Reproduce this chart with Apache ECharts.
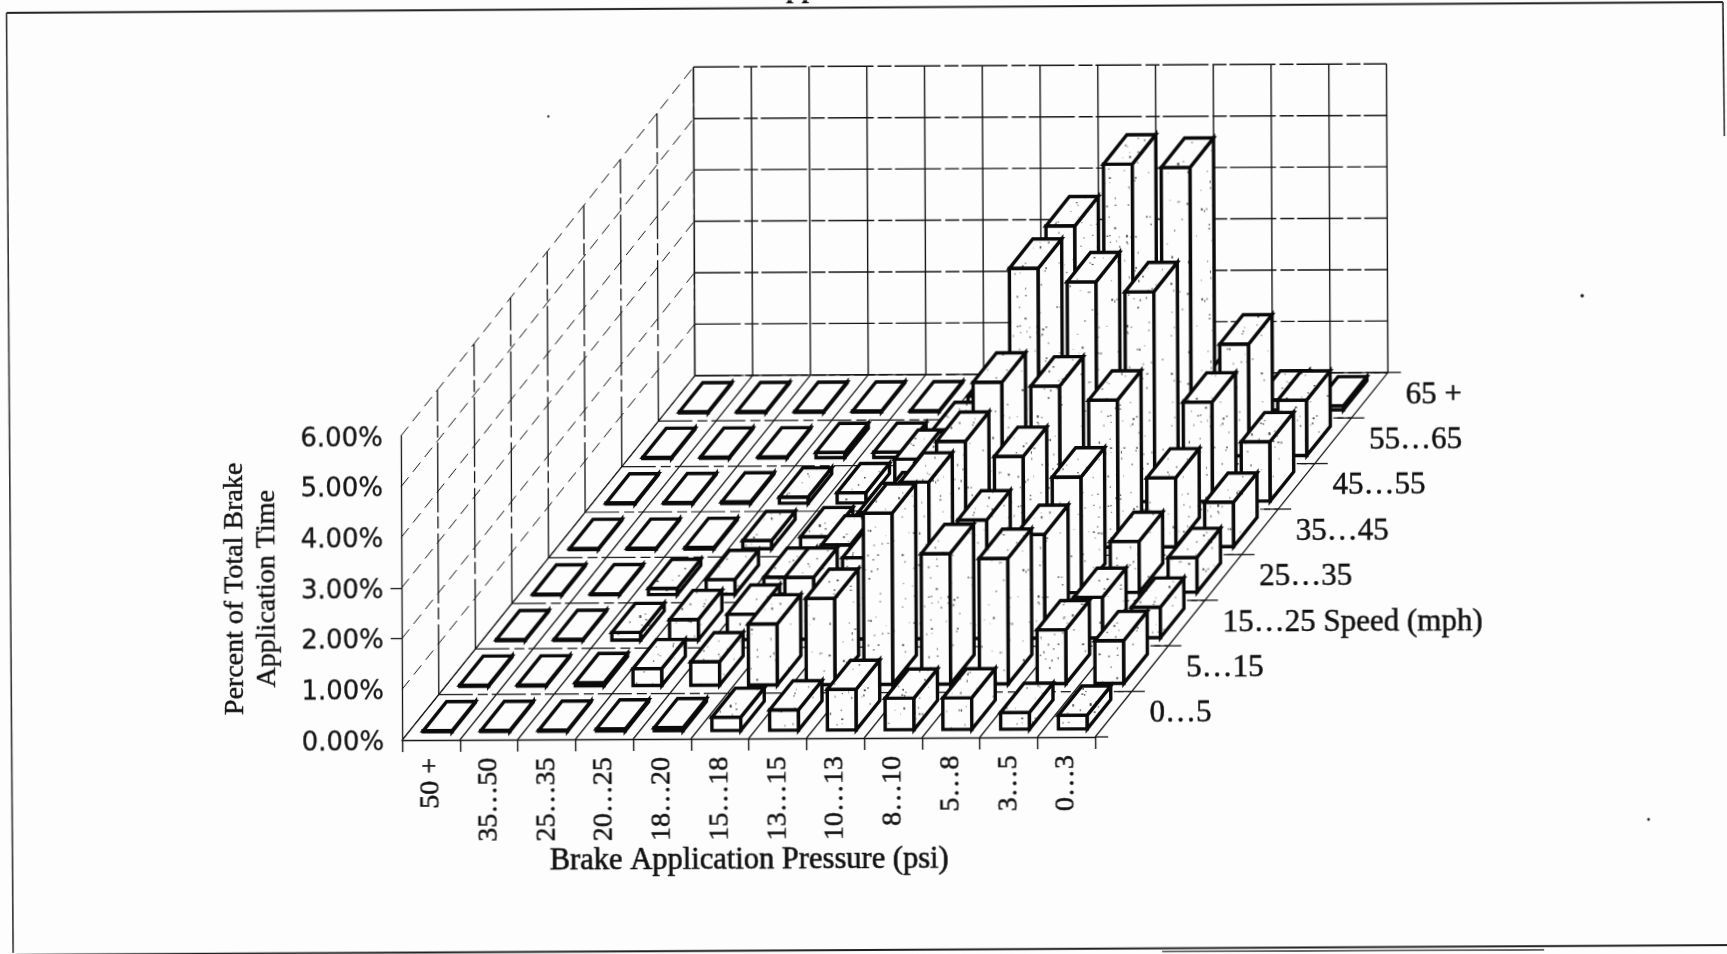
<!DOCTYPE html>
<html><head><meta charset="utf-8">
<style>html,body{margin:0;padding:0;background:#fdfdfd;overflow:hidden}
#c{width:1727px;height:954px;transform:rotate(-0.26deg);transform-origin:50% 50%}</style>
<script src="https://cdn.jsdelivr.net/npm/echarts@6/dist/echarts.min.js"></script>
</head><body><div id="c"></div>
<script>
const pressureLabels=['50 +','35…50','25…35','20…25','18…20','15…18','13…15','10…13','8…10','5…8','3…5','0…3'];
const speedLabels=['0…5','5…15','15…25 Speed (mph)','25…35','35…45','45…55','55…65','65 +'];
const percentLabels=['0.00%','1.00%','2.00%','3.00%','4.00%','5.00%','6.00%'];
const speed0to5   =[0.02,0.02,0.02,0.04,0.06,0.26,0.40,0.80,0.62,0.62,0.33,0.27];
const speed5to15  =[0.02,0.02,0.06,0.33,0.46,1.20,1.70,3.37,2.57,2.47,1.06,0.84];
const speed15to25 =[0.02,0.02,0.15,0.40,0.50,1.22,1.60,3.08,2.33,2.04,0.80,0.60];
const speed25to35 =[0.02,0.02,0.12,0.29,0.33,0.96,1.80,2.98,2.68,2.27,1.00,0.68];
const speed35to45 =[0.02,0.02,0.03,0.16,0.23,0.70,1.70,3.24,3.16,2.88,1.35,0.87];
const speed45to55 =[0.02,0.02,0.03,0.12,0.20,0.85,1.10,4.57,4.30,4.10,1.94,1.16];
const speed55to65 =[0.02,0.02,0.02,0.10,0.10,0.50,1.20,4.50,5.70,5.63,2.18,1.08];
const speed65plus =[0.02,0.02,0.02,0.02,0.02,0.30,0.80,1.00,1.50,0.50,0.20,0.08];
const rows=[speed0to5,speed5to15,speed15to25,speed25to35,speed35to45,speed45to55,speed55to65,speed65plus];

// oblique projection: one speed step moves this far on screen, and heights grow slightly with depth
const depthX=36.8, depthY=-45.4, depthGrow=0.00185;
const INK='#0a0a0a';
function P(api,i,j,v){
  const c=api.coord([0,v]),b=api.coord([0,0]);const w=api.size([1,0])[0];
  return [c[0]-w/2+i*w+j*depthX, b[1]+(c[1]-b[1])*(1+j*depthGrow)+j*depthY];
}

function speckle(n,dark){
  const t=document.createElement('canvas');t.width=t.height=90;const g=t.getContext('2d');
  g.fillStyle='#fdfdfd';g.fillRect(0,0,90,90);
  let s=n;const r=()=>{s=(s*16807)%2147483647;return s/2147483647;};
  for(let k=0;k<dark;k++){g.fillStyle='rgba(40,40,40,'+(0.25+r()*0.6)+')';g.fillRect(r()*90,r()*90,1+r()*1.2,1+r()*1.5);}
  return t;
}
const tileFront=speckle(12345,55), tileSide=speckle(777,45), tileTop=speckle(4242,70);
function face(img){return {image:img,repeat:'repeat'};}

const bars=[];
for(let j=rows.length-1;j>=0;j--) for(let i=0;i<rows[j].length;i++) bars.push([i,rows[j][i],j]);

function line(a,b,w,dash){return {type:'line',shape:{x1:a[0],y1:a[1],x2:b[0],y2:b[1]},style:{stroke:'#151515',lineWidth:w,lineDash:dash||null,fill:null},silent:true};}

function renderFrame(p,api){
  const ch=[];const I=pressureLabels.length,J=speedLabels.length;
  for(let i=0;i<=I;i++){ch.push(line(P(api,i,J,0),P(api,i,J,6),1.4));ch.push(line(P(api,i,0,0),P(api,i,J,0),1.2));}
  for(let v=0;v<=6;v++){ch.push(line(P(api,0,J,v),P(api,I,J,v),1.4,[46,4,14,3]));
    if(v>0)ch.push(line(P(api,0,0,v),P(api,0,J,v),1,[12,7]));else ch.push(line(P(api,0,0,v),P(api,0,J,v),1,[16,5]));}
  for(let j=1;j<=J;j++){ch.push(line(P(api,0,j,0),P(api,0,j,6),1.3,[70,5,12,4]));
    ch.push(line(P(api,0,j,0),P(api,I,j,0),1.2,[34,5,10,4]));}
  for(let j=0;j<=J;j++){const e=P(api,I,j,0);ch.push(line([e[0]-(j?14:0),e[1]],[e[0]+13,e[1]],1.3));}
  return {type:'group',children:ch};
}
function poly(pts,fill,lw){return {type:'polygon',shape:{points:pts},style:{fill:fill,stroke:INK,lineWidth:lw,lineJoin:'miter'}};}
function renderBar(p,api){
  const i=api.value(0),v=api.value(1),j=api.value(2);
  const x0=i+0.25,x1=i+0.75,d0=j+0.18,d1=j+0.82,lw=3.4;
  const a=P(api,x0,d0,0),b=P(api,x1,d0,0),c=P(api,x1,d0,v),d=P(api,x0,d0,v);
  const e=P(api,x1,d1,0),f=P(api,x1,d1,v),g=P(api,x0,d1,v);
  const tall=v>=0.12;
  const white='#fdfdfd';
  return {type:'group',children:[
    poly([a,b,c,d],tall?face(tileFront):white,lw),
    poly([b,e,f,c],tall?face(tileSide):white,lw),
    poly([d,c,f,g],tall?face(tileTop):white,lw)
  ]};
}
function renderSpeed(p,api){
  const j=api.value(0);const a=P(api,pressureLabels.length,j+0.5,0);
  return {type:'text',style:{x:a[0]+36,y:a[1],text:speedLabels[j],fill:'#111',font:'31px "Liberation Serif"',textAlign:'left',textVerticalAlign:'middle',stroke:'#111',lineWidth:0.5},silent:true};
}
const chart=echarts.init(document.getElementById('c'),null,{renderer:'canvas'});
const serif='"Liberation Serif"';
chart.setOption({
  animation:false,backgroundColor:'#fdfdfd',
  grid:{left:401,top:434,width:693,height:304},
  xAxis:{type:'category',data:pressureLabels,boundaryGap:true,
    axisLine:{lineStyle:{color:'#151515',width:1.4}},
    axisTick:{show:true,length:12,alignWithLabel:false,lineStyle:{color:'#151515',width:1.4}},
    axisLabel:{interval:0,rotate:90,margin:18,color:'#111',fontFamily:serif,fontSize:28,textBorderColor:'#111',textBorderWidth:0.5},
    name:'Brake Application Pressure (psi)',nameLocation:'middle',nameGap:103,
    nameTextStyle:{color:'#111',fontFamily:serif,fontSize:30.5,textBorderColor:'#111',textBorderWidth:0.6}},
  yAxis:{type:'value',min:0,max:6,interval:1,
    axisLine:{show:true,lineStyle:{color:'#151515',width:1.3}},
    axisTick:{show:true,length:11,customValues:[2,3],lineStyle:{color:'#151515',width:1.3}},
    splitLine:{show:false},
    axisLabel:{margin:18,color:'#161616',fontFamily:'"DejaVu Sans"',fontSize:26,verticalAlign:'top',lineHeight:6,formatter:(v)=>percentLabels[Math.round(v)],textBorderColor:'#161616',textBorderWidth:0.3},
    name:'Percent of Total Brake\nApplication Time',nameLocation:'middle',nameRotate:90,nameGap:118,
    nameTextStyle:{color:'#111',fontFamily:serif,fontSize:28,lineHeight:32,textBorderColor:'#111',textBorderWidth:0.4}},
  series:[
    {type:'custom',name:'frame',z:1,silent:true,clip:false,data:[[0,0]],encode:{x:0,y:1},renderItem:renderFrame},
    {type:'custom',name:'share of brake time',z:3,silent:true,clip:false,data:bars,encode:{x:0,y:1},renderItem:renderBar},
    {type:'custom',name:'speed labels',z:4,silent:true,clip:false,data:speedLabels.map((s,j)=>[j]),encode:{x:-1,y:-1},renderItem:renderSpeed}
  ],
  graphic:[
    {type:'polyline',silent:true,shape:{points:[[8.6,9],[1725,6]]},style:{stroke:'#222',lineWidth:2,fill:null}},
    {type:'polyline',silent:true,shape:{points:[[8.6,9],[11,949]]},style:{stroke:'#333',lineWidth:1.6,fill:null}},
    {type:'polyline',silent:true,shape:{points:[[1725,6],[1726,140]]},style:{stroke:'#222',lineWidth:1.6,fill:null}},
    {type:'polyline',silent:true,shape:{points:[[14,951],[1727,949]]},style:{stroke:'#222',lineWidth:2.2,fill:null}},
    {type:'polyline',silent:true,shape:{points:[[1160,953],[1542,953]]},style:{stroke:'#333',lineWidth:1.6,fill:null}},
    {type:'circle',silent:true,shape:{cx:550,cy:115,r:1.2},style:{fill:'#333'}},
    {type:'circle',silent:true,shape:{cx:1583,cy:299,r:1.8},style:{fill:'#222'}},
    {type:'circle',silent:true,shape:{cx:1647,cy:823,r:1.4},style:{fill:'#222'}},
    {type:'text',silent:true,x:788,y:4,style:{text:'pp',fill:'#111',font:'bold 28px "Liberation Serif"',textAlign:'left',textVerticalAlign:'bottom'}}
  ]
});
</script></body></html>
